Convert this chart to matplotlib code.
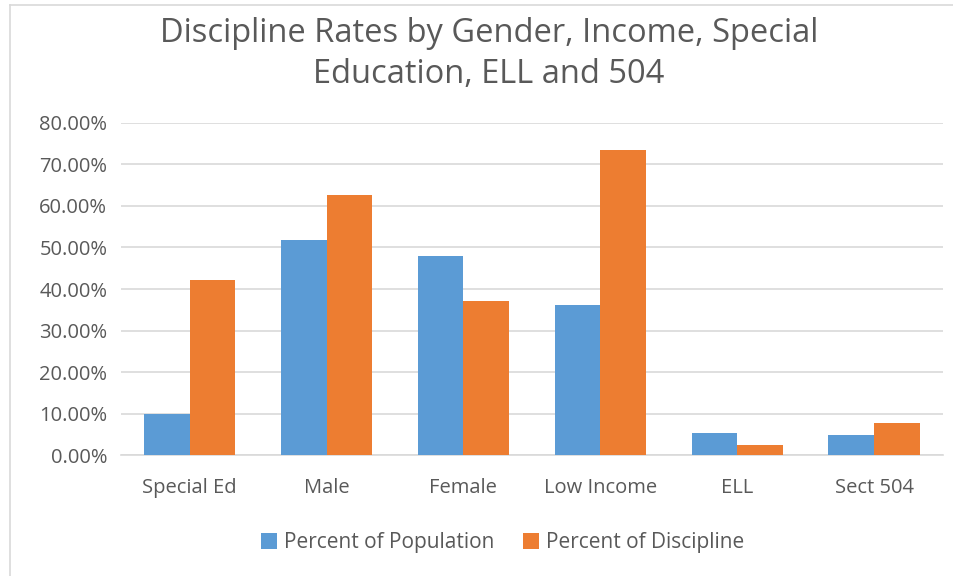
import matplotlib
matplotlib.use("Agg")
import matplotlib.pyplot as plt
import numpy as np
from matplotlib.ticker import FuncFormatter, MultipleLocator
from matplotlib.lines import Line2D

categories = ["Special Ed", "Male", "Female", "Low Income", "ELL", "Sect 504"]
pct_population = [0.100, 0.517, 0.479, 0.361, 0.054, 0.049]
pct_discipline = [0.421, 0.625, 0.371, 0.735, 0.025, 0.077]
series_names = ["Percent of Population", "Percent of Discipline"]

plt.rcParams['font.family'] = ['Open Sans', 'DejaVu Sans']
text_color = "#595959"
blue = "#5B9BD5"
orange = "#ED7D31"

fig = plt.figure(figsize=(9.54, 5.76), dpi=100)
ax = fig.add_axes([0.127, 0.2095, 0.861, 0.5775])

x = np.arange(len(categories))
w = 1/3
ax.bar(x - w/2, pct_population, w, color=blue, label=series_names[0], zorder=3)
ax.bar(x + w/2, pct_discipline, w, color=orange, label=series_names[1], zorder=3)

ax.set_xlim(-0.5, len(categories) - 0.5)
ax.set_ylim(0, 0.8)
ax.yaxis.set_major_locator(MultipleLocator(0.1))
ax.yaxis.set_major_formatter(FuncFormatter(lambda v, p: f"{v*100:.2f}%"))
ax.set_xticks(x)
ax.set_xticklabels(categories)
ax.grid(axis='y', color="#D9D9D9", linewidth=1.2, zorder=0)
for s in ['top', 'right', 'left']:
    ax.spines[s].set_visible(False)
ax.spines['bottom'].set_color("#D9D9D9")
ax.spines['bottom'].set_linewidth(1.2)
ax.tick_params(axis='both', length=0, colors=text_color, labelsize=14.5)
ax.tick_params(axis='x', pad=16)
ax.tick_params(axis='y', pad=10)

fig.text(0.5126, 0.906, "Discipline Rates by Gender, Income, Special\nEducation, ELL and 504",
         ha='center', va='center', fontsize=23.5, color=text_color, linespacing=1.33)

leg = fig.legend(loc='center', bbox_to_anchor=(0.527, 0.058), ncol=2, frameon=False,
                 fontsize=15, handlelength=0.77, handleheight=0.77, columnspacing=1.35,
                 handletextpad=0.34, labelcolor=text_color)

# outer chart border lines (top and left)
fig.add_artist(Line2D([10/954, 1], [1 - 5/576, 1 - 5/576], color="#D9D9D9", lw=1.2))
fig.add_artist(Line2D([10/954, 10/954], [0, 1 - 5/576], color="#D9D9D9", lw=1.2))

fig.savefig("out.png", dpi=100)
